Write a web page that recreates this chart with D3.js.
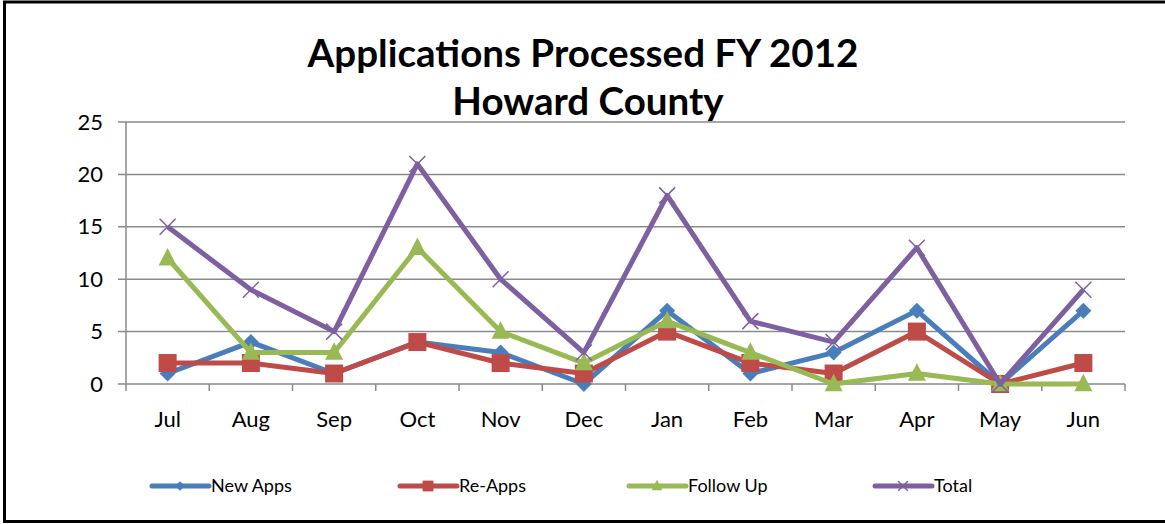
<!DOCTYPE html>
<html>
<head>
<meta charset="utf-8">
<script src="https://cdn.jsdelivr.net/npm/d3@7"></script>
<style>
  body { margin: 0; background: #fff; }
  svg { display: block; font-family: Lato, "Open Sans", sans-serif; }
</style>
</head>
<body>
<div id="chart"></div>
<script>
var months = ["Jul","Aug","Sep","Oct","Nov","Dec","Jan","Feb","Mar","Apr","May","Jun"];
var newApps = [1,4,1,4,3,0,7,1,3,7,0,7];
var reApps = [2,2,1,4,2,1,5,2,1,5,0,2];
var followUp = [12,3,3,13,5,2,6,3,0,1,0,0];
var total = [15,9,5,21,10,3,18,6,4,13,0,9];
var yTicks = [0,5,10,15,20,25];

var series = [
  {name: "New Apps", values: newApps, color: "#4A7EBB", marker: "diamond"},
  {name: "Re-Apps", values: reApps, color: "#BE4B48", marker: "square"},
  {name: "Follow Up", values: followUp, color: "#98B954", marker: "triangle"},
  {name: "Total", values: total, color: "#7D60A0", marker: "x"}
];

var w = 1165, h = 524,
    p = {"top": 122, "right": 40, "left": 126, "bot": 140};

var svg = d3.select("#chart").append("svg")
  .attr("width", w)
  .attr("height", h)

// frame (right side runs off the picture)
svg.append("rect")
  .attr("x", 4.5).attr("y", 2).attr("width", w + 10).attr("height", h - 4.5)
  .attr("fill", "none").attr("stroke", "#000").attr("stroke-width", 3)

var x = d3.scaleBand()
  .domain(months)
  .range([p.left, 1125])

var y = d3.scaleLinear()
  .domain([0, 25])
  .range([384, p.top])

// gridlines
svg.append("g")
  .selectAll("line")
  .data(yTicks)
  .enter().append("line")
    .attr("x1", p.left - 8).attr("x2", 1125)
    .attr("y1", function(d){ return y(d) }).attr("y2", function(d){ return y(d) })
    .attr("stroke", "#8a8a8a").attr("stroke-width", 1.5)

// y axis line
svg.append("line")
  .attr("x1", p.left).attr("x2", p.left)
  .attr("y1", y(25)).attr("y2", y(0) + 7)
  .attr("stroke", "#8a8a8a").attr("stroke-width", 1.5)

// x ticks at category boundaries
var bounds = months.map(function(m){ return x(m) + x.bandwidth() });
svg.append("g")
  .selectAll("line")
  .data(bounds)
  .enter().append("line")
    .attr("x1", function(d){ return d }).attr("x2", function(d){ return d })
    .attr("y1", y(0)).attr("y2", y(0) + 7)
    .attr("stroke", "#8a8a8a").attr("stroke-width", 1.5)

// y labels
svg.append("g")
  .selectAll("text")
  .data(yTicks)
  .enter().append("text")
    .attr("x", 103)
    .attr("y", function(d){ return y(d) + 7.5 })
    .attr("text-anchor", "end")
    .style("font-size", "22px")
    .text(function(d){ return d })

// x labels
svg.append("g")
  .selectAll("text")
  .data(months)
  .enter().append("text")
    .attr("x", function(d){ return x(d) + x.bandwidth() / 2 })
    .attr("y", 427)
    .attr("text-anchor", "middle")
    .style("font-size", "22px")
    .text(function(d){ return d })

// title
var title = svg.append("text")
  .attr("text-anchor", "middle")
  .style("font-weight", "bold")
  .style("font-size", "34px")
title.append("tspan").attr("x", 583).attr("y", 67).text("Applications Processed FY 2012")
title.append("tspan").attr("x", 588).attr("y", 115).text("Howard County")
var tw = title.select("tspan").node().getComputedTextLength();
title.style("font-size", (34 * 551 / tw) + "px")

function cx(i){ return x(months[i]) + x.bandwidth() / 2 }

function drawMarker(g, type, color, px, py, s) {
  if (type == "diamond") {
    g.append("path")
      .attr("d", "M" + px + "," + (py - s) + "L" + (px + s) + "," + py + "L" + px + "," + (py + s) + "L" + (px - s) + "," + py + "Z")
      .attr("fill", color)
  } else if (type == "square") {
    g.append("rect")
      .attr("x", px - s).attr("y", py - s).attr("width", 2 * s).attr("height", 2 * s)
      .attr("fill", color)
  } else if (type == "triangle") {
    g.append("path")
      .attr("d", "M" + px + "," + (py - s * 1.15) + "L" + (px + s) + "," + (py + s * 0.8) + "L" + (px - s) + "," + (py + s * 0.8) + "Z")
      .attr("fill", color)
  } else {
    g.append("path")
      .attr("d", "M" + (px - s) + "," + (py - s) + "L" + (px + s) + "," + (py + s) + "M" + (px + s) + "," + (py - s) + "L" + (px - s) + "," + (py + s))
      .attr("stroke", color).attr("stroke-width", 1.5).attr("fill", "none")
  }
}

var line = d3.line()
  .x(function(d, i){ return cx(i) })
  .y(function(d){ return y(d) })

var sizes = {"diamond": 8, "square": 9, "triangle": 9, "x": 8};

series.forEach(function(s){
  var g = svg.append("g")
  g.append("path")
    .datum(s.values)
    .attr("d", line)
    .attr("fill", "none")
    .attr("stroke", s.color)
    .attr("stroke-width", 5)
    .attr("stroke-linejoin", "round")
  s.values.forEach(function(v, i){
    drawMarker(g, s.marker, s.color, cx(i), y(v), sizes[s.marker])
  })
})

// legend
var legX = [152, 400, 629, 875];
var leg = svg.append("g")
series.forEach(function(s, i){
  var g = leg.append("g")
  g.append("line")
    .attr("x1", legX[i]).attr("x2", legX[i] + 57)
    .attr("y1", 486).attr("y2", 486)
    .attr("stroke", s.color).attr("stroke-width", 5).attr("stroke-linecap", "round")
  drawMarker(g, s.marker, s.color, legX[i] + 28, 486, sizes[s.marker] * 0.6)
  g.append("text")
    .attr("x", legX[i] + 59)
    .attr("y", 492)
    .style("font-size", "18px")
    .text(s.name)
})
</script>
</body>
</html>
